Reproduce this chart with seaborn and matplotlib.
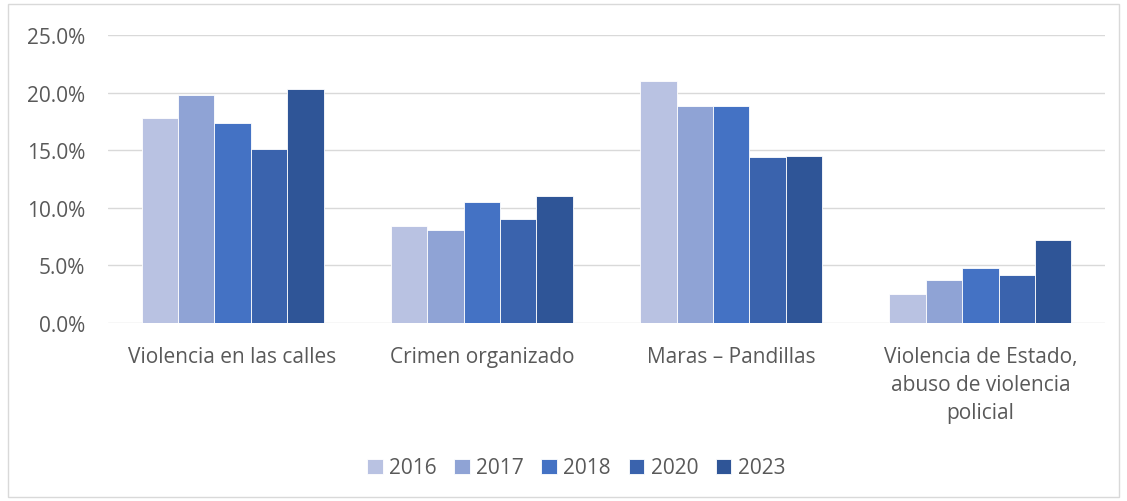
import matplotlib
matplotlib.use("Agg")
import matplotlib.pyplot as plt
import seaborn as sns
import pandas as pd
from matplotlib.patches import Rectangle
from matplotlib.ticker import FuncFormatter

categories = ["Violencia en las calles", "Crimen organizado", "Maras – Pandillas",
              "Violencia de Estado,\nabuso de violencia\npolicial"]
years = ["2016", "2017", "2018", "2020", "2023"]
v2016 = [17.8, 8.4, 21.0, 2.5]
v2017 = [19.8, 8.1, 18.8, 3.7]
v2018 = [17.4, 10.5, 18.8, 4.8]
v2020 = [15.1, 9.0, 14.4, 4.2]
v2023 = [20.3, 11.0, 14.5, 7.2]
colors = ["#B9C2E2", "#8FA3D5", "#4472C4", "#3A63AD", "#2F5597"]

series = [v2016, v2017, v2018, v2020, v2023]
rows = []
for y, vals in zip(years, series):
    for c, v in zip(categories, vals):
        rows.append({"cat": c, "year": y, "val": v})
df = pd.DataFrame(rows)

sns.set_theme(style="white")
plt.rcParams['font.family'] = ['Open Sans', 'DejaVu Sans']

fig = plt.figure(figsize=(11.27, 5.02), dpi=100)
ax = fig.add_axes([108/1127, 1-324/502, (1105-108)/1127, (324-36)/502])

sns.barplot(data=df, x="cat", y="val", hue="year", palette=colors, width=0.73,
            saturation=1, edgecolor="white", linewidth=0.6, ax=ax, legend=True)

ax.set_ylim(0, 25)
ax.set_yticks([0, 5, 10, 15, 20, 25])
ax.yaxis.set_major_formatter(FuncFormatter(lambda v, p: f"{v:.1f}%"))
ax.grid(axis="y", color="#D9D9D9", linewidth=1)
ax.set_axisbelow(True)
for s in ax.spines.values():
    s.set_visible(False)
ax.tick_params(axis="y", length=0, pad=16.5, labelsize=15, labelcolor="#595959")
ax.tick_params(axis="x", length=0, pad=16.5, labelsize=15, labelcolor="#595959")
for lab in ax.get_xticklabels():
    lab.set_multialignment("center")
    lab.set_linespacing(1.45)
ax.set_xlabel("")
ax.set_ylabel("")

leg = ax.legend(loc="center", bbox_to_anchor=(0.5 - 0.5*(108+1105-2*576)/997, 1-(469-36)/288),
                ncol=5, frameon=False, fontsize=15, handlelength=0.75, handleheight=0.75,
                handletextpad=0.3, columnspacing=0.85)
for t in leg.get_texts():
    t.set_color("#595959")

fig.patches.append(Rectangle((8/1127, 4/502), 1111/1127, 493/502, transform=fig.transFigure,
                             fill=False, edgecolor="#D9D9D9", linewidth=1))

fig.savefig("out.png", dpi=100)
